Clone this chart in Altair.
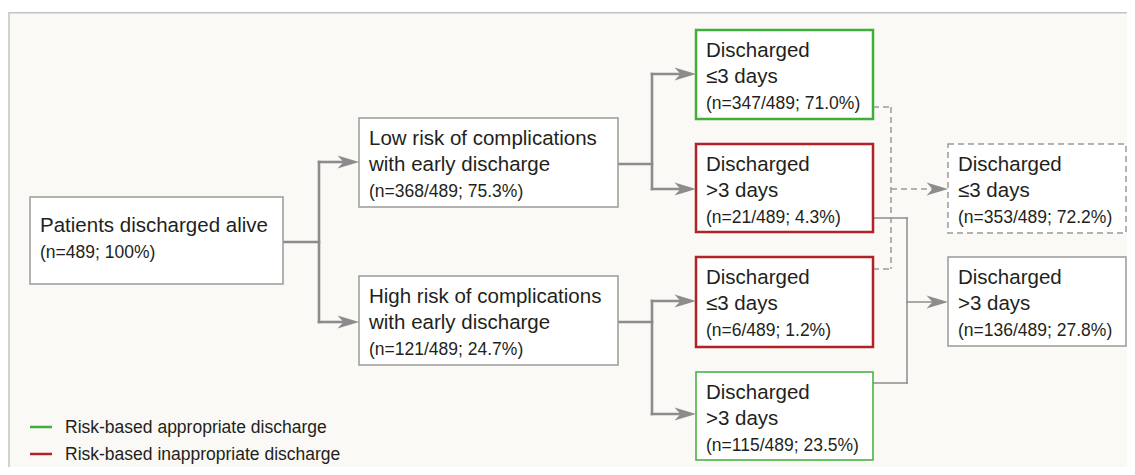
import altair as alt
import pandas as pd

# ---------------- content ----------------
node_ids = ["all", "low", "high", "low_le3", "low_gt3", "high_le3", "high_gt3", "tot_le3", "tot_gt3"]
node_title = [
    ["Patients discharged alive"],
    ["Low risk of complications", "with early discharge"],
    ["High risk of complications", "with early discharge"],
    ["Discharged", "≤3 days"],
    ["Discharged", ">3 days"],
    ["Discharged", "≤3 days"],
    ["Discharged", ">3 days"],
    ["Discharged", "≤3 days"],
    ["Discharged", ">3 days"],
]
node_n = [489, 368, 121, 347, 21, 6, 115, 353, 136]
node_total = 489
node_pct = ["100%", "75.3%", "24.7%", "71.0%", "4.3%", "1.2%", "23.5%", "72.2%", "27.8%"]
node_class = ["neutral", "neutral", "neutral", "appropriate", "inappropriate",
              "inappropriate", "appropriate", "combined", "neutral"]
legend_labels = ["Risk-based appropriate discharge", "Risk-based inappropriate discharge"]
legend_class = ["appropriate", "inappropriate"]

# ---------------- layout (page pixels) ----------------
box_x0 = [30, 359, 359, 696, 696, 696, 696, 948, 948]
box_x1 = [283, 618, 618, 873, 873, 873, 873, 1126, 1126]
box_y0 = [197, 118, 276, 30, 144, 257, 372, 144, 257]
box_y1 = [284, 207, 365, 119, 232, 347, 460, 233, 346]
box_sw = [1.5, 1.5, 1.5, 2.5, 2.5, 2.5, 1.5, 1.5, 1.5]
text_y0 = [232, 145, 303, 57, 171, 284, 399, 171, 284]
line_step = 25.5

class_color = {"neutral": "#9b9b9b", "combined": "#9b9b9b",
               "appropriate": "#3fae3a", "inappropriate": "#b02226"}

# connector polylines: (x, y, x2, y2)
thick = [
    (283, 242, 319, 242), (319, 162, 319, 322), (319, 162, 346, 162), (319, 322, 346, 322),
    (618, 164, 652, 164), (652, 74, 652, 189), (652, 74, 682, 74), (652, 189, 682, 189),
    (618, 322, 652, 322), (652, 301, 652, 414), (652, 301, 682, 301), (652, 414, 682, 414),
]
thin = [
    (873, 218, 907, 218), (907, 218, 907, 383), (873, 383, 907, 383), (907, 302, 934, 302),
]
dashed = [
    (873, 107, 891, 107), (891, 107, 891, 269), (873, 269, 891, 269), (891, 189, 934, 189),
]
arrow_tips = [(359, 162), (359, 322), (696, 74), (696, 189), (696, 301), (696, 414),
              (948, 302), (948, 189)]

W, H = 1119, 459
xs = alt.Scale(domain=[8, 8 + W], range=[0, W])
ys = alt.Scale(domain=[8, 8 + H], reverse=True)


def X(f):
    return alt.X(f, type="quantitative", scale=xs, axis=None)


def Y(f):
    return alt.Y(f, type="quantitative", scale=ys, axis=None)


# ---------------- tables ----------------
boxes = pd.DataFrame({
    "id": node_ids, "x0": box_x0, "x1": box_x1, "y0": box_y0, "y1": box_y1,
    "stroke": [class_color[c] for c in node_class], "sw": box_sw,
    "dashed": [c == "combined" for c in node_class],
})

title_rows, stat_rows = [], []
for i, nid in enumerate(node_ids):
    for j, t in enumerate(node_title[i]):
        title_rows.append({"x": box_x0[i] + 10, "y": text_y0[i] + j * line_step, "text": t})
    if node_n[i] == node_total:
        s = f"(n={node_n[i]}; {node_pct[i]})"
    else:
        s = f"(n={node_n[i]}/{node_total}; {node_pct[i]})"
    stat_rows.append({"x": box_x0[i] + 10,
                      "y": text_y0[i] + len(node_title[i]) * line_step + 0.5, "text": s})
titles = pd.DataFrame(title_rows)
stats = pd.DataFrame(stat_rows)


def segdf(segs):
    return pd.DataFrame(segs, columns=["x", "y", "x2", "y2"])


arrows = pd.DataFrame(arrow_tips, columns=["x", "y"])

legend = pd.DataFrame({
    "x": [30, 30], "x2": [52, 52], "y": [427, 454], "ty": [433, 460], "tx": [65, 65],
    "label": legend_labels, "color": [class_color[c] for c in legend_class],
})

panel = pd.DataFrame({"x": [9], "x2": [1160], "y": [12.75], "y2": [500]})

# ---------------- marks ----------------
panel_l = alt.Chart(panel).mark_rect(fill="#faf9f5", stroke="#c3c3c3", strokeWidth=1.5, clip=True).encode(
    x=X("x"), x2="x2", y=Y("y"), y2="y2")

box_solid = alt.Chart(boxes).transform_filter("!datum.dashed").mark_rect(fill="white").encode(
    x=X("x0"), x2="x1", y=Y("y0"), y2="y1",
    stroke=alt.Stroke("stroke:N", scale=None),
    strokeWidth=alt.StrokeWidth("sw:Q", scale=None))
box_dash = alt.Chart(boxes).transform_filter("datum.dashed").mark_rect(
    fill="white", stroke="#9b9b9b", strokeWidth=1.5, strokeDash=[6, 4]).encode(
    x=X("x0"), x2="x1", y=Y("y0"), y2="y1")

thick_l = alt.Chart(segdf(thick)).mark_rule(color="#8c8c8c", strokeWidth=2.6, strokeCap="square").encode(
    x=X("x"), x2="x2", y=Y("y"), y2="y2")
thin_l = alt.Chart(segdf(thin)).mark_rule(color="#8c8c8c", strokeWidth=1.5, strokeCap="square").encode(
    x=X("x"), x2="x2", y=Y("y"), y2="y2")
dash_l = alt.Chart(segdf(dashed)).mark_rule(color="#9b9b9b", strokeWidth=1.5, strokeDash=[6, 4]).encode(
    x=X("x"), x2="x2", y=Y("y"), y2="y2")

arrow_l = alt.Chart(arrows).mark_point(
    shape="M0,0 L-1,-0.3 L-0.72,0 L-1,0.3 Z", size=1850, filled=True,
    color="#8c8c8c", opacity=1, strokeWidth=0).encode(x=X("x"), y=Y("y"))

title_l = alt.Chart(titles).mark_text(
    align="left", baseline="alphabetic", font="Liberation Sans", fontSize=20.5, color="#231f20").encode(
    x=X("x"), y=Y("y"), text="text:N")
stat_l = alt.Chart(stats).mark_text(
    align="left", baseline="alphabetic", font="Liberation Sans", fontSize=17.5, color="#231f20").encode(
    x=X("x"), y=Y("y"), text="text:N")

leg_line = alt.Chart(legend).mark_rule(strokeWidth=2.5).encode(
    x=X("x"), x2="x2", y=Y("y"), color=alt.Color("color:N", scale=None))
leg_text = alt.Chart(legend).mark_text(
    align="left", baseline="alphabetic", font="Liberation Sans", fontSize=17.5, color="#231f20").encode(
    x=X("tx"), y=Y("ty"), text="label:N")

chart = alt.layer(
    panel_l, thick_l, thin_l, dash_l, box_solid, box_dash, arrow_l, title_l, stat_l, leg_line, leg_text
).properties(
    width=W, height=H, autosize="none", padding=0, background="white"
).configure_view(stroke=None)

chart.save("out.html", embed_options={"renderer": "svg", "actions": False})
